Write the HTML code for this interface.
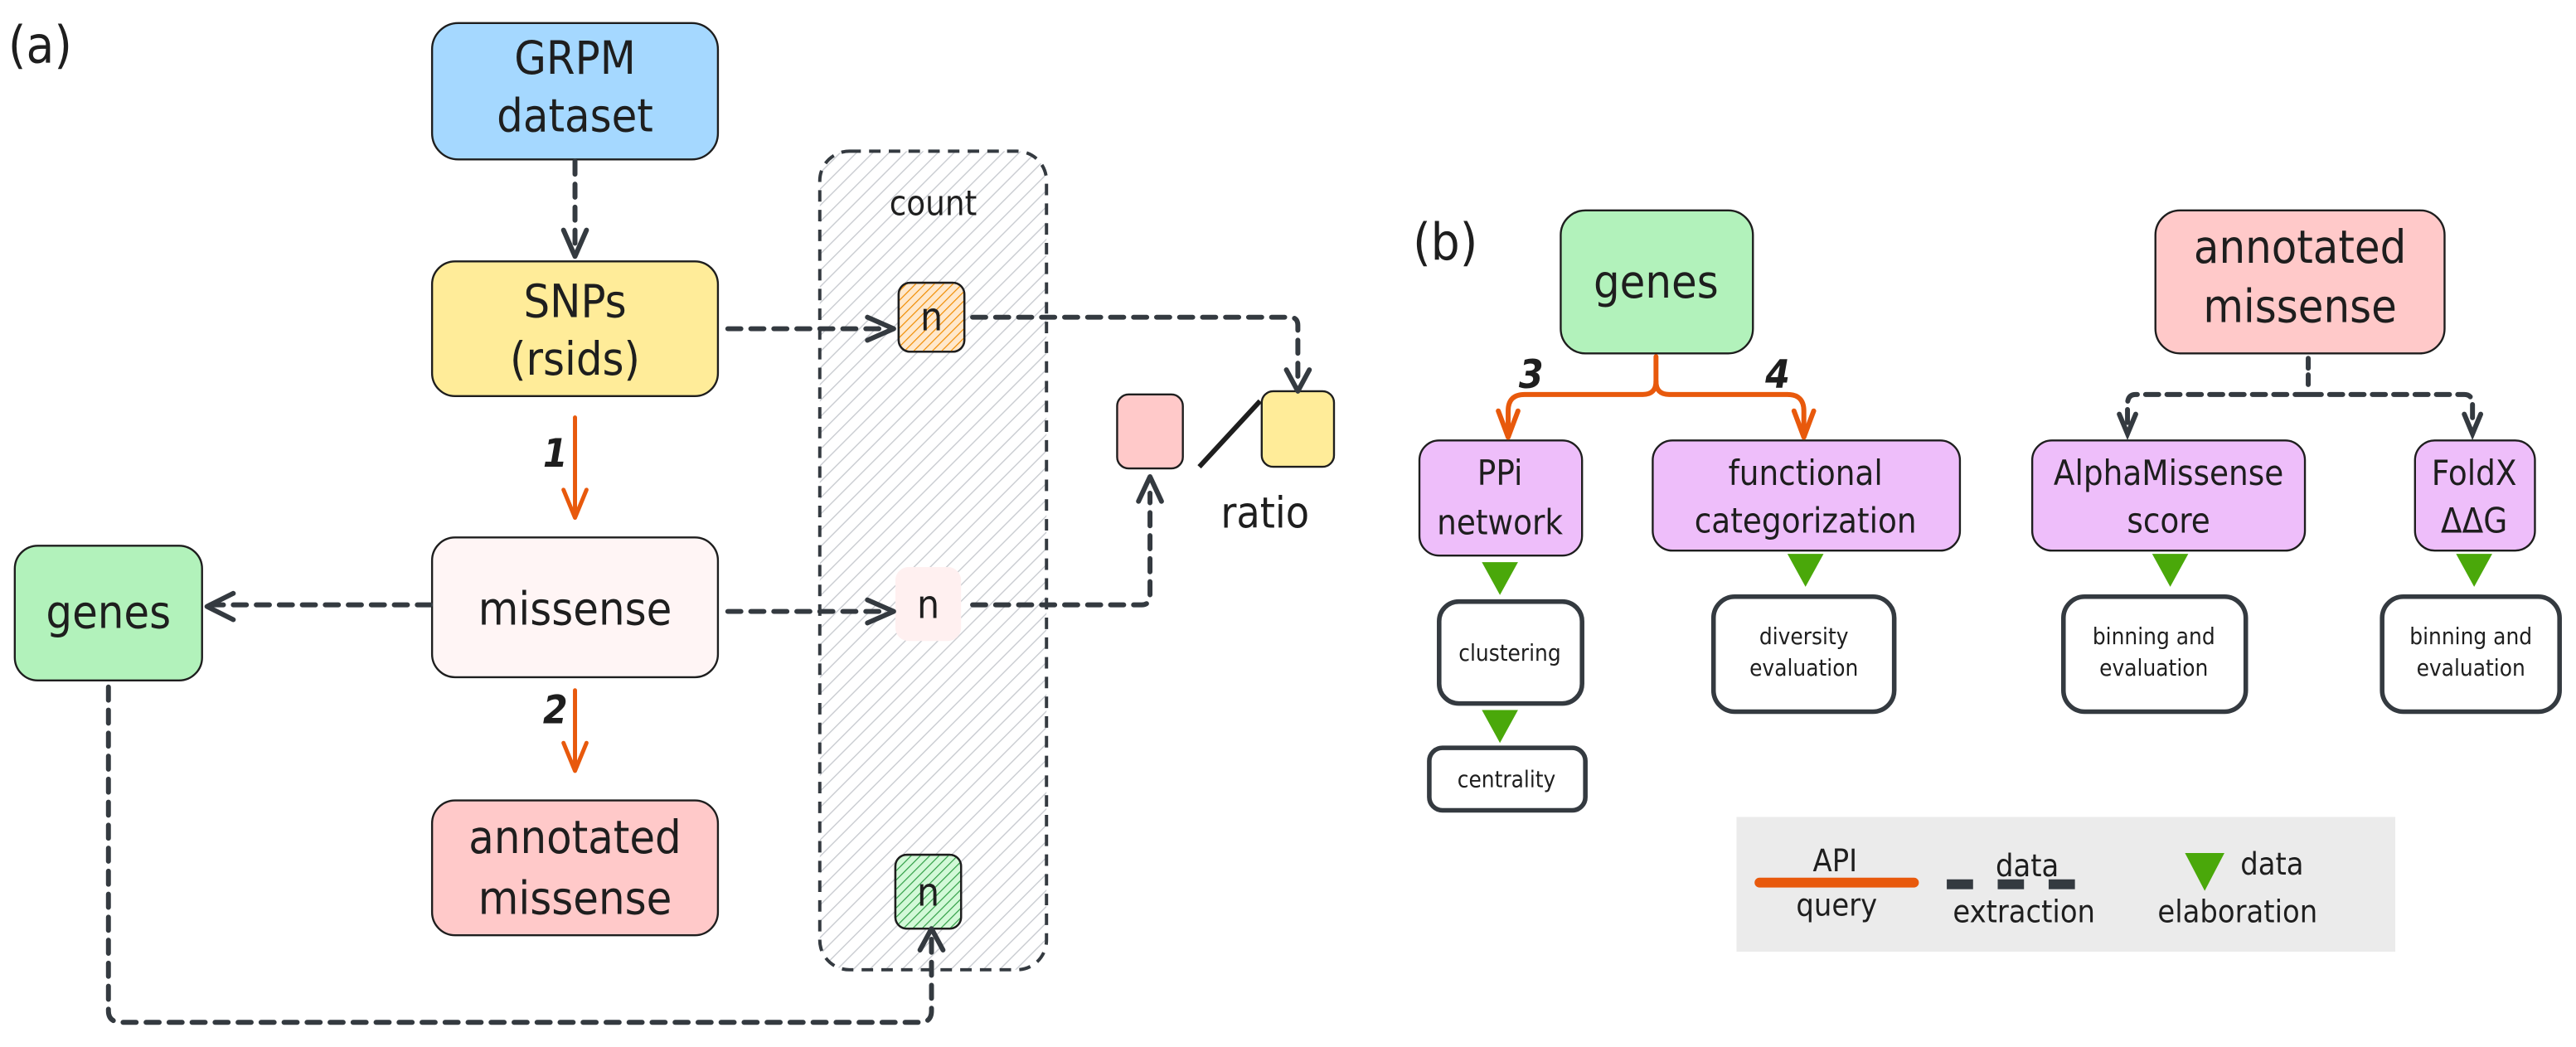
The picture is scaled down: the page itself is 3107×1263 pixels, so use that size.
<!DOCTYPE html>
<html><head><meta charset="utf-8"><style>
html,body{margin:0;padding:0;background:#fff;}
svg{display:block;}
text{font-family:"DejaVu Sans Condensed","Liberation Sans Narrow","Liberation Sans",sans-serif;fill:#1e1e1e;}
</style></head><body>
<svg width="3107" height="1263" viewBox="0 0 1568 637" preserveAspectRatio="none" xmlns="http://www.w3.org/2000/svg">
<defs>
<pattern id="hatch" width="7" height="7" patternUnits="userSpaceOnUse" patternTransform="rotate(45)">
<line x1="0" y1="0" x2="0" y2="7" stroke="#c8cbd0" stroke-width="1.4"/></pattern>
<pattern id="hor" width="4" height="4" patternUnits="userSpaceOnUse" patternTransform="rotate(45)">
<line x1="0" y1="0" x2="0" y2="4" stroke="#f08c00" stroke-width="1.2"/></pattern>
<pattern id="hgr" width="4" height="4" patternUnits="userSpaceOnUse" patternTransform="rotate(45)">
<line x1="0" y1="0" x2="0" y2="4" stroke="#2f9e44" stroke-width="1.2"/></pattern>
</defs>
<g font-size="31"><text x="5" y="38">(a)</text><text x="860" y="158">(b)</text></g>

<!-- count container -->
<rect x="499" y="92" width="138" height="498" rx="18" fill="url(#hatch)" stroke="#343a40" stroke-width="2" stroke-dasharray="7,5"/>
<text x="568" y="131" font-size="21" text-anchor="middle">count</text>

<!-- boxes (a) -->
<g stroke="#1e1e1e" stroke-width="1.2">
<rect x="263" y="14" width="174" height="83" rx="16" fill="#a5d8ff"/>
<rect x="263" y="159" width="174" height="82" rx="14" fill="#ffec99"/>
<rect x="263" y="327" width="174" height="85" rx="14" fill="#fff5f5"/>
<rect x="263" y="487" width="174" height="82" rx="14" fill="#ffc9c9"/>
<rect x="9" y="332" width="114" height="82" rx="14" fill="#b2f2bb"/>
<rect x="547" y="172" width="40" height="42" rx="7" fill="#ffe8cc"/>
<rect x="547" y="172" width="40" height="42" rx="7" fill="url(#hor)"/>
<rect x="545" y="520" width="40" height="45" rx="7" fill="#d3f9d8"/>
<rect x="545" y="520" width="40" height="45" rx="7" fill="url(#hgr)"/>
<rect x="680" y="240" width="40" height="45" rx="7" fill="#ffc9c9"/>
<rect x="768" y="238" width="44" height="46" rx="7" fill="#ffec99"/>
</g>
<rect x="545" y="345" width="40" height="45" rx="8" fill="#fff0f0"/>
<line x1="730" y1="284" x2="767" y2="244" stroke="#1e1e1e" stroke-width="3"/>

<g font-size="28" text-anchor="middle">
<text x="350" y="45">GRPM</text><text x="350" y="80">dataset</text>
<text x="350" y="193">SNPs</text><text x="350" y="228">(rsids)</text>
<text x="350" y="380">missense</text>
<text x="350" y="519">annotated</text><text x="350" y="556">missense</text>
<text x="66" y="382">genes</text>
<text x="567" y="201" font-size="24">n</text>
<text x="565" y="376" font-size="24">n</text>
<text x="565" y="551" font-size="24">n</text>
<text x="770" y="321" font-size="26">ratio</text>
</g>

<!-- connectors (a) -->
<g fill="none" stroke="#343a40" stroke-width="3" stroke-dasharray="8,6" stroke-linecap="round">
<path d="M350 98 V153"/>
<path d="M443 200 H540"/>
<path d="M592 193 H785 Q790 193 790 198 V234"/>
<path d="M443 372 H540"/>
<path d="M592 368 H695 Q700 368 700 362 V300"/>
<path d="M262 368 H128"/>
<path d="M66 418 V615 Q66 622 74 622 H560 Q567 622 567 615 V570"/>
</g>
<g fill="none" stroke="#343a40" stroke-width="3" stroke-linecap="round" stroke-linejoin="round">
<path d="M343 140 L350 156 L357 140"/>
<path d="M528 193 L544 200 L528 207"/>
<path d="M783 225 L790 238 L797 225"/>
<path d="M528 365 L544 372 L528 379"/>
<path d="M693 305 L700 290 L707 305"/>
<path d="M142 361 L126 369 L142 377"/>
<path d="M560 578 L567 565 L574 578"/>
</g>
<g fill="none" stroke="#e8590c" stroke-width="2.5" stroke-linecap="round" stroke-linejoin="round">
<path d="M350 254 V314"/><path d="M343 298 L350 315 L357 298"/>
<path d="M350 420 V468"/><path d="M343 452 L350 469 L357 452"/>
</g>
<g font-size="24" font-weight="bold" font-style="italic" text-anchor="middle" font-family="Liberation Sans,sans-serif">
<text x="338" y="284">1</text><text x="338" y="440">2</text>
<text x="932" y="236">3</text><text x="1082" y="236">4</text>
</g>

<!-- (b) boxes -->
<g stroke="#1e1e1e" stroke-width="1.2">
<rect x="950" y="128" width="117" height="87" rx="15" fill="#b2f2bb"/>
<rect x="1312" y="128" width="176" height="87" rx="15" fill="#ffc9c9"/>
</g>
<g stroke="#1e1e1e" stroke-width="1.2" fill="#eebefa">
<rect x="864" y="268" width="99" height="70" rx="12"/>
<rect x="1006" y="268" width="187" height="67" rx="12"/>
<rect x="1237" y="268" width="166" height="67" rx="12"/>
<rect x="1470" y="268" width="73" height="67" rx="12"/>
</g>
<g stroke="#343a40" stroke-width="2.8" fill="#fff">
<rect x="876" y="366" width="87" height="62" rx="12"/>
<rect x="1043" y="363" width="110" height="70" rx="13"/>
<rect x="1256" y="363" width="111" height="70" rx="13"/>
<rect x="1450" y="363" width="108" height="70" rx="13"/>
<rect x="870" y="455" width="95" height="38" rx="8"/>
</g>
<g font-size="28" text-anchor="middle">
<text x="1008" y="181">genes</text>
<text x="1400" y="160">annotated</text><text x="1400" y="196">missense</text>
</g>
<g font-size="21" text-anchor="middle">
<text x="913" y="295">PPi</text><text x="913" y="325">network</text>
<text x="1099" y="295">functional</text><text x="1099" y="324">categorization</text>
<text x="1320" y="295">AlphaMissense</text><text x="1320" y="324">score</text>
<text x="1506" y="295">FoldX</text><text x="1506" y="324">ΔΔG</text>
</g>
<g font-size="14" text-anchor="middle" fill="#343a40">
<text x="919" y="402">clustering</text>
<text x="1098" y="392">diversity</text><text x="1098" y="411">evaluation</text>
<text x="1311" y="392">binning and</text><text x="1311" y="411">evaluation</text>
<text x="1504" y="392">binning and</text><text x="1504" y="411">evaluation</text>
<text x="917" y="479">centrality</text>
</g>
<!-- green triangles -->
<g fill="#4aa80a">
<path d="M902 342 L924 342 L913 362 Z"/>
<path d="M902 432 L924 432 L913 452 Z"/>
<path d="M1088 337 L1110 337 L1099 357 Z"/>
<path d="M1310 337 L1332 337 L1321 357 Z"/>
<path d="M1495 337 L1517 337 L1506 357 Z"/>
</g>
<!-- orange bracket -->
<g fill="none" stroke="#e8590c" stroke-width="3" stroke-linecap="round" stroke-linejoin="round">
<path d="M1008 217 V232 Q1008 240 1000 240 H928 Q918 240 918 250 V262"/>
<path d="M1008 232 Q1008 240 1016 240 H1088 Q1098 240 1098 250 V262"/>
<path d="M912 250 L918 266 L924 250"/>
<path d="M1092 250 L1098 266 L1104 250"/>
</g>
<!-- dashed bracket -->
<g fill="none" stroke="#343a40" stroke-width="3" stroke-linecap="round">
<path d="M1405 218 V236" stroke-dasharray="6,4"/>
<path d="M1405 240 H1300 Q1295 240 1295 246 V258 M1405 240 H1500 Q1505 240 1505 246 V258" stroke-dasharray="8,5"/>
<path d="M1290 252 L1295 264 L1300 252 M1500 252 L1505 264 L1510 252"/>
</g>
<!-- legend -->
<rect x="1057" y="497" width="401" height="82" fill="#ebebeb"/>
<line x1="1071" y1="537" x2="1165" y2="537" stroke="#e8590c" stroke-width="6" stroke-linecap="round"/>
<g font-size="19" text-anchor="middle">
<text x="1117" y="530">API</text><text x="1118" y="557">query</text>
<text x="1234" y="533">data</text><text x="1232" y="561">extraction</text>
<text x="1383" y="532">data</text><text x="1362" y="561">elaboration</text>
</g>
<g fill="#343a40"><rect x="1185" y="535" width="16" height="6"/><rect x="1216" y="535" width="16" height="6"/><rect x="1247" y="535" width="16" height="6"/></g>
<path d="M1330 519 L1354 519 L1342 542 Z" fill="#4aa80a"/>
</svg>
</body></html>
